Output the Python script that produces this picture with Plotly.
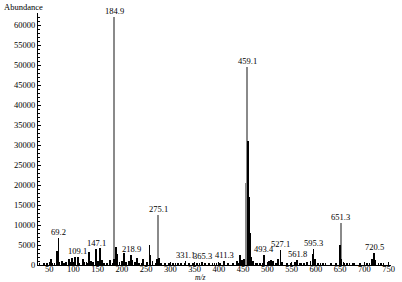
import plotly.graph_objects as go

# Major (grey) peaks
grey_mz = [184.9, 459.1, 456.5, 275.1, 651.3]
grey_ab = [62000, 49500, 20500, 12500, 10500]

# Minor (black) peaks
black_mz = [40, 45, 53, 57, 67, 69.2, 71, 77, 81, 85, 91, 95, 98, 103, 109.1, 112,
            119, 121, 127, 133, 136, 141, 147.1, 151, 155, 159, 163, 169, 175, 183,
            187, 189, 191, 195, 201, 205, 209, 215, 218.9, 221, 227, 231, 235, 243,
            251, 257, 259, 263, 273, 277, 281, 289, 297, 305, 315, 323, 331.1, 339,
            347, 355, 365.3, 371, 379, 387, 395, 403, 411.3, 419, 429, 437, 443, 447,
            452, 460.5, 462, 463.5, 467, 471, 477, 485, 493.4, 503, 507, 511, 517,
            522, 527.1, 531, 541, 549, 557, 561.8, 567, 575, 581, 589, 593, 595.3,
            598, 605, 615, 631, 641, 649.5, 653, 657, 665, 677, 691, 705, 716, 720.5,
            723, 735]
black_ab = [300, 400, 1400, 600, 3600, 6700, 800, 900, 600, 700, 1500, 800, 1700, 1900, 2100, 600,
            1400, 800, 700, 3200, 1000, 700, 4000, 900, 4300, 1200, 600, 500, 1300, 1500,
            4600, 2000, 2800, 700, 1000, 3000, 800, 900, 2500, 1200, 700, 1800, 600, 1600,
            700, 5000, 2500, 900, 1500, 1800, 500, 400, 500, 400, 600, 500, 1000, 500,
            400, 500, 800, 400, 600, 500, 400, 500, 900, 400, 600, 900, 2500, 1200,
            1500, 31000, 17000, 8000, 2000, 1000, 600, 500, 2500, 1000, 1200, 900, 600,
            1500, 3800, 800, 500, 600, 700, 1200, 600, 500, 800, 900, 2800, 4000,
            1500, 600, 400, 400, 500, 5000, 1500, 800, 500, 400, 300, 400, 1500, 3000,
            1200, 300]

# Peak labels
label_mz = [69.2, 109.1, 147.1, 184.9, 218.9, 275.1, 331.1, 365.3, 411.3, 459.1,
            493.4, 527.1, 561.8, 595.3, 651.3, 720.5]
label_ab = [6700, 2100, 4000, 62000, 2500, 12500, 1000, 800, 900, 49500,
            2500, 3800, 1200, 4000, 10500, 3000]

x_ticks = [50, 100, 150, 200, 250, 300, 350, 400, 450, 500, 550, 600, 650, 700, 750]
y_ticks = list(range(0, 60001, 5000))

FONT = "Liberation Serif"

fig = go.Figure()
fig.add_trace(go.Bar(x=grey_mz, y=grey_ab, width=2.6, marker=dict(color="#8a8a8a", line=dict(width=0))))
fig.add_trace(go.Bar(x=black_mz, y=black_ab, width=1.8, marker=dict(color="#000000", line=dict(width=0))))

for mz, ab in zip(label_mz, label_ab):
    fig.add_annotation(x=mz, y=ab, text=f"{mz:.1f}", showarrow=False, xref="x", yref="y",
                       yanchor="bottom", yshift=-1, font=dict(family=FONT, size=8.5, color="#000"))

fig.add_annotation(x=0.0, y=1.0, xref="paper", yref="paper", xanchor="left", yanchor="middle",
                   text="Abundance", showarrow=False, yshift=6, xshift=-36,
                   font=dict(family=FONT, size=8.5, color="#000"))
fig.add_annotation(x=362, y=0, xref="x", yref="paper", xanchor="center", yanchor="middle",
                   text="<i>m/z</i>", showarrow=False, yshift=-12.5, borderpad=0,
                   font=dict(family=FONT, size=7.5, color="#000"))

fig.update_layout(
    width=402, height=282,
    margin=dict(l=38, r=7, t=13, b=17),
    paper_bgcolor="white", plot_bgcolor="white",
    showlegend=False, barmode="overlay", bargap=0,
    font=dict(family=FONT, size=8.5, color="#000"),
    xaxis=dict(range=[27, 755], tickvals=x_ticks, ticks="inside", ticklen=3, tickcolor="#000",
               showline=True, linecolor="#000", linewidth=1, showgrid=False, zeroline=False,
               minor=dict(dtick=10, tick0=0, ticks="inside", ticklen=2, tickcolor="#000"),
               tickfont=dict(family=FONT, size=8.5), tickformat="d", ticklabelstandoff=-4),
    yaxis=dict(range=[0, 63000], tickvals=y_ticks, ticks="inside", ticklen=3, tickcolor="#000",
               showline=True, linecolor="#000", linewidth=1, showgrid=False, zeroline=False,
               minor=dict(dtick=1000, tick0=0, ticks="inside", ticklen=2, tickcolor="#000"),
               tickfont=dict(family=FONT, size=8.5), tickformat="d"),
)

fig.write_html("out.html", config={"displayModeBar": False},
               post_script="document.body.style.margin='0';document.body.style.overflow='hidden';")
